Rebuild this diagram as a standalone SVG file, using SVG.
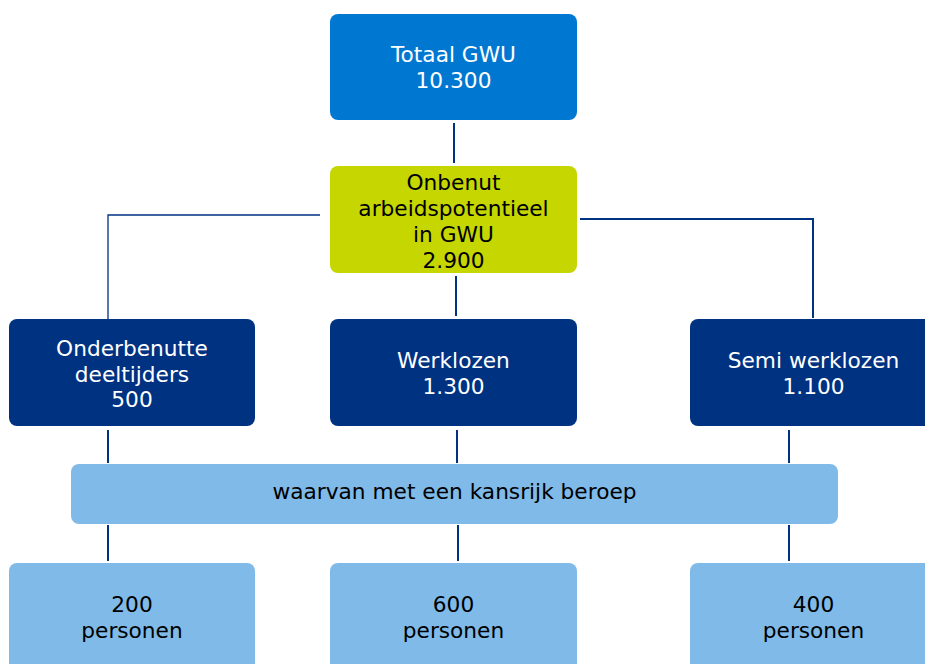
<svg xmlns="http://www.w3.org/2000/svg" width="925" height="664" viewBox="0 0 925 664">
<style>
text{font-family:"DejaVu Sans",Verdana,sans-serif;font-size:21.7px;text-anchor:middle}
.w{fill:#ffffff}.k{fill:#000000}
.top{fill:#0078d2}.green{fill:#c5d600}.dark{fill:#003282}.light{fill:#7fbae8}
.c{stroke:#003282;fill:none;stroke-width:2}
.ct{stroke:#003282;fill:none;stroke-width:1.3}
</style>
<rect width="925" height="664" fill="#ffffff"/>
<g id="connectors">
<line class="c" x1="454" y1="123" x2="454" y2="163"/>
<polyline class="ct" points="320,215 108,215 108,319"/>
<polyline class="c" points="580,219 813,219 813,318"/>
<line class="c" x1="456" y1="276" x2="456" y2="316"/>
<line class="c" x1="108" y1="430" x2="108" y2="463"/>
<line class="c" x1="457" y1="430" x2="457" y2="463"/>
<line class="c" x1="789" y1="430" x2="789" y2="463"/>
<line class="c" x1="108" y1="525" x2="108" y2="561"/>
<line class="c" x1="458" y1="525" x2="458" y2="561"/>
<line class="c" x1="789" y1="525" x2="789" y2="561"/>
</g>
<g id="totaal">
<rect class="top" x="330" y="14" width="247" height="106" rx="8"/>
<text class="w" x="453.5" y="62">Totaal GWU</text>
<text class="w" x="453.5" y="88">10.300</text>
</g>
<g id="onbenut">
<rect class="green" x="330" y="166" width="247" height="107" rx="8"/>
<text class="k" x="453.5" y="190">Onbenut</text>
<text class="k" x="453.5" y="216">arbeidspotentieel</text>
<text class="k" x="453.5" y="242">in GWU</text>
<text class="k" x="453.5" y="268">2.900</text>
</g>
<g id="onderbenutte">
<rect class="dark" x="9" y="319" width="246" height="107" rx="8"/>
<text class="w" x="132" y="356">Onderbenutte</text>
<text class="w" x="132" y="382">deeltijders</text>
<text class="w" x="132" y="407">500</text>
</g>
<g id="werklozen">
<rect class="dark" x="330" y="319" width="247" height="107" rx="8"/>
<text class="w" x="453.5" y="368">Werklozen</text>
<text class="w" x="453.5" y="394">1.300</text>
</g>
<g id="semi">
<rect class="dark" x="690" y="319" width="247" height="107" rx="8"/>
<text class="w" x="813.5" y="368">Semi werklozen</text>
<text class="w" x="813.5" y="394">1.100</text>
</g>
<g id="waarvan">
<rect class="light" x="71" y="464" width="767" height="60" rx="8"/>
<text class="k" x="454.5" y="499">waarvan met een kansrijk beroep</text>
</g>
<g id="b200">
<rect class="light" x="9" y="563" width="246" height="110" rx="8"/>
<text class="k" x="132" y="612">200</text>
<text class="k" x="132" y="638">personen</text>
</g>
<g id="b600">
<rect class="light" x="330" y="563" width="247" height="110" rx="8"/>
<text class="k" x="453.5" y="612">600</text>
<text class="k" x="453.5" y="638">personen</text>
</g>
<g id="b400">
<rect class="light" x="690" y="563" width="247" height="110" rx="8"/>
<text class="k" x="813.5" y="612">400</text>
<text class="k" x="813.5" y="638">personen</text>
</g>
</svg>
